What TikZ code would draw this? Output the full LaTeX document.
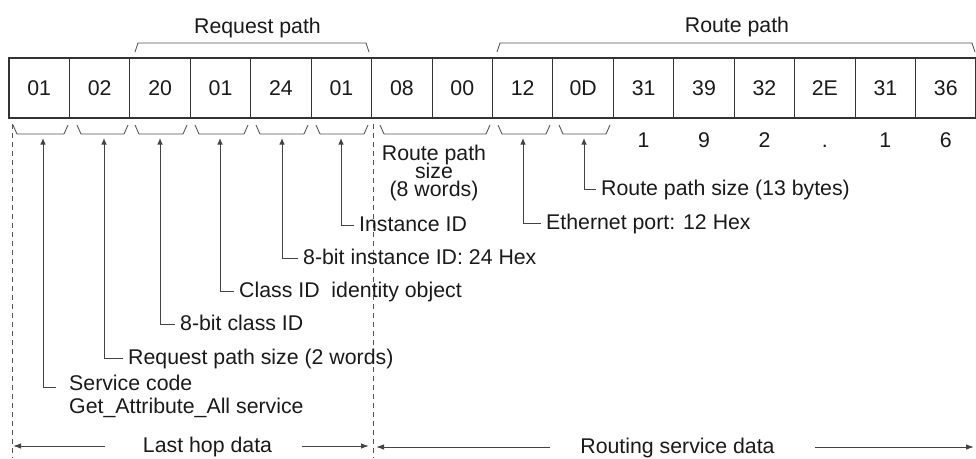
\documentclass[tikz,border=0pt]{standalone}
\usepackage{fontspec}
\setmainfont{Liberation Sans}
\usetikzlibrary{arrows.meta}
\newcommand\lblfont{\fontsize{21.3}{23}\selectfont}
\definecolor{txt}{HTML}{1A1A1A}
\definecolor{cellc}{HTML}{333333}
\definecolor{brkc}{HTML}{555555}
\definecolor{arrc}{HTML}{444444}
\begin{document}
\begin{tikzpicture}[x=1pt,y=-1pt,
  lbl/.style={inner sep=0pt, anchor=base west, font=\lblfont, text=txt},
  cell/.style={draw=cellc, line width=1.1pt, minimum width=60.4375pt, minimum height=60pt,
    inner sep=0pt, text height=15pt, text depth=0pt, font=\lblfont, text=txt},
  brk/.style={draw=brkc, line width=0.9pt},
  ptr/.style={draw=arrc, line width=1pt, -{Latex[length=6.5pt,width=5.5pt]}},
  spanarr/.style={draw=arrc, line width=1pt, -{Latex[length=8pt,width=5.5pt]}},
  guide/.style={draw=brkc, line width=0.8pt, dash pattern=on 5pt off 4pt},
]
\useasboundingbox (0,0) rectangle (976,458);
\begin{scope}
\clip (0,0) rectangle (976,458);
% cells
\foreach \t [count=\i] in {01,02,20,01,24,01,08,00,12,0D,31,39,32,2E,31,36}
  \node[cell] (c\i) at ({9+60.4375*(\i-0.5)},88) {\t};
\end{scope}

% top braces
\draw[brk] (135,52) -- (138,43) -- (366,43) -- (369,52);
\node[lbl, anchor=base] (reqp) at (257.5,33) {Request path};
\draw[brk] (497,52) -- (500,43) -- (972,43) -- (975,52);
\node[lbl, anchor=base] (roup) at (737,32.5) {Route path};

% bottom brackets
\foreach \a/\b in {13/68,77/128,135/187,195/248,256/308,316/368,380/490,498/550,559/610}
  \draw[brk] (\a,125) -- (\a+4,134) -- (\b-4,134) -- (\b,125);

% ASCII digits
\foreach \d [count=\i from 11] in {1,9,2,.,1,6}
  \node[lbl, anchor=base] (d\i) at ({9+60.4375*(\i-0.5)},147.5) {\d};

% route path size (8 words)
\node[lbl, anchor=north, align=center] (rps) at (434,144.5)
  {Route path\\[-5pt]size\\[-5pt](8 words)};

% dashed guides
\draw[guide] (12,124) -- (12,458);
\draw[guide] (373,124) -- (373,458);

% arrow targets
\coordinate (t1) at (43,138);
\coordinate (t2) at (104,138);
\coordinate (t3) at (160,138);
\coordinate (t4) at (220,138);
\coordinate (t5) at (282,138);
\coordinate (t6) at (341,138);
\coordinate (t9) at (523,138);
\coordinate (t10) at (584,138);

% labels
\node[lbl, anchor=north west, align=left] (l1) at (69,375.3) {Service code\\Get\_Attribute\_All service};
\node[lbl] (l2) at (128,364.5) {Request path size (2 words)};
\node[lbl] (l3) at (180,330.5) {8-bit class ID};
\node[lbl] (l4) at (239,297.5) {Class ID\ \ identity object};
\node[lbl] (l5) at (303,264.5) {8-bit instance ID: 24 Hex};
\node[lbl] (l6) at (359,231.5) {Instance ID};
\node[lbl] (l9) at (546,229.5) {Ethernet port: 12 Hex};
\node[lbl] (l10) at (601,195.5) {Route path size (13 bytes)};

% pointers
\draw[ptr] ([xshift=-13pt,yshift=-12pt]l1.north west) -| (t1);
\foreach \i in {2,3,4,5,6,9,10}
  \draw[ptr] ([xshift=-5pt,yshift=6pt]l\i.base west) -| (t\i);

% bottom spans
\node[lbl, anchor=base] (lhd) at (207.5,452) {Last hop data};
\coordinate (lhA) at (105,446);
\coordinate (lhB) at (13,446);
\coordinate (lhC) at (302,446);
\coordinate (lhD) at (369,446);
\draw[spanarr] (lhA) -- (lhB);
\draw[spanarr] (lhC) -- (lhD);
\node[lbl, anchor=base] (rsd) at (677.5,453) {Routing service data};
\coordinate (rsA) at (550,447);
\coordinate (rsB) at (376,447);
\coordinate (rsC) at (815,447);
\coordinate (rsD) at (974,447);
\draw[spanarr] (rsA) -- (rsB);
\draw[spanarr] (rsC) -- (rsD);
\end{tikzpicture}
\end{document}
